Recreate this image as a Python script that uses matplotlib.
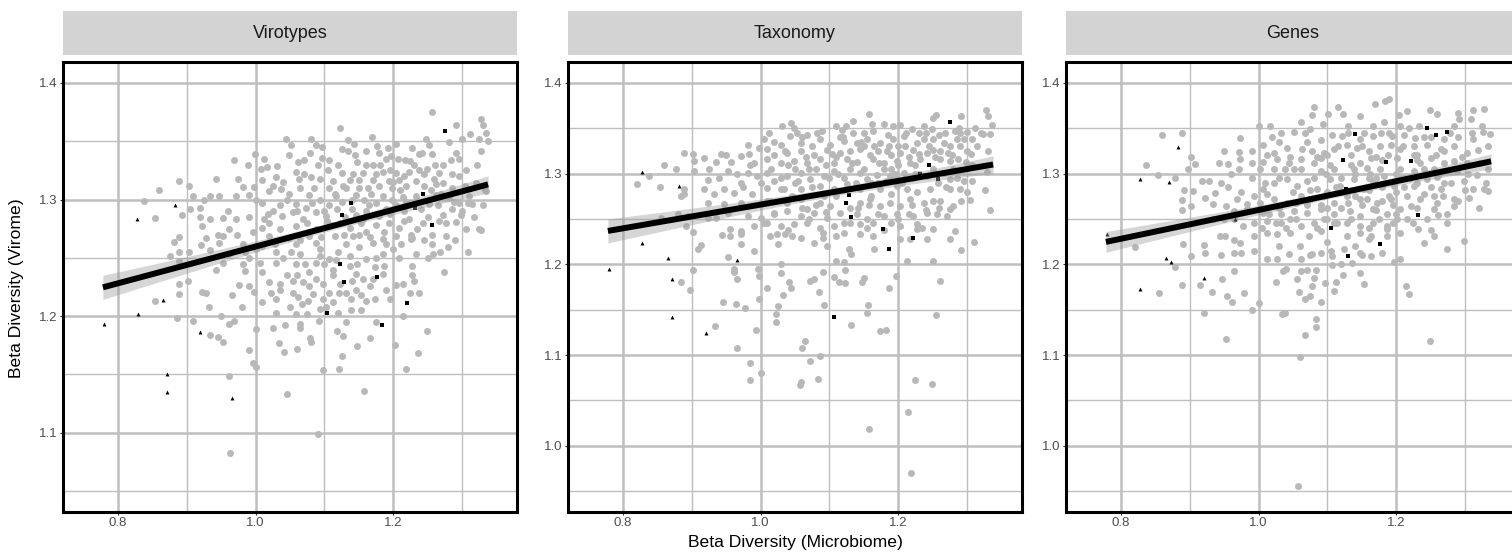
import numpy as np
import matplotlib
matplotlib.use("Agg")
import matplotlib.pyplot as plt
from matplotlib.ticker import MultipleLocator

plt.rcParams['font.family'] = ['Liberation Sans', 'DejaVu Sans']

# ---------------- data ----------------
panels = ["Virotypes", "Taxonomy", "Genes"]
x_label = "Beta Diversity (Microbiome)"
y_label = "Beta Diversity (Virome)"

virotypes_grey = [
    (1.256,1.375),(1.328,1.369),(1.292,1.364),(1.330,1.364),(1.123,1.361),
    (1.335,1.357),(1.311,1.356),(1.169,1.354),(1.081,1.352),(1.044,1.352),(1.135,1.351),(1.247,1.352),(1.281,1.349),
    (1.338,1.350),(1.051,1.347),(1.088,1.347),(1.204,1.348),(1.300,1.352),(1.252,1.347),(1.176,1.346),(1.193,1.344),
    (1.227,1.344),(1.327,1.342),(1.134,1.342),(1.126,1.343),(1.161,1.342),
    (1.291,1.340),(1.238,1.339),(1.257,1.339),(1.079,1.340),(0.999,1.339),(1.096,1.336),(1.284,1.334),(1.071,1.334),
    (1.107,1.334),(0.969,1.334),(1.217,1.334),(1.197,1.337),(1.225,1.333),(1.061,1.332),(0.989,1.330),(1.148,1.332),
    (1.031,1.329),(1.261,1.330),(1.181,1.330),(1.016,1.328),(1.306,1.325),(1.249,1.326),(1.008,1.326),
    (1.058,1.324),(1.126,1.323),(1.142,1.322),(1.156,1.323),(1.185,1.324),(1.204,1.323),(1.223,1.324),(1.267,1.323),
    (1.286,1.322),(0.942,1.318),(0.889,1.316),(1.093,1.318),(1.081,1.319),(1.030,1.319),(1.010,1.317),(1.112,1.316),
    (1.137,1.317),(1.151,1.317),(1.170,1.317),(1.194,1.316),(1.209,1.317),(1.233,1.316),(1.272,1.314),(0.903,1.312),
    (0.981,1.311),(0.998,1.311),(1.064,1.310),(1.037,1.309),(1.107,1.310),(1.127,1.312),(1.163,1.310),(1.180,1.312),
    (1.218,1.312),(1.262,1.313),(1.335,1.307),
    (0.859,1.308),(0.909,1.303),(0.933,1.303),(0.947,1.303),(0.972,1.303),(0.991,1.304),(1.020,1.307),(1.049,1.305),
    (1.078,1.304),(1.093,1.300),(1.117,1.303),(1.146,1.304),(1.158,1.300),(1.185,1.303),(1.199,1.300),(1.214,1.302),
    (1.233,1.303),(1.262,1.304),(1.281,1.302),(1.310,1.303),(0.838,1.299),(1.010,1.297),(1.035,1.295),(1.059,1.296),
    (1.073,1.293),(1.107,1.295),(1.175,1.297),(1.204,1.295),(1.252,1.296),(1.296,1.297),(1.309,1.297),(0.919,1.293),
    (0.904,1.292),
    (0.893,1.287),(0.854,1.284),(0.919,1.285),(0.933,1.283),(0.952,1.284),(0.972,1.283),(0.991,1.285),(1.018,1.288),
    (1.039,1.286),(1.054,1.289),(1.069,1.283),(1.088,1.289),(1.102,1.286),(1.122,1.280),(1.146,1.287),(1.156,1.283),
    (1.180,1.286),(1.194,1.280),(1.223,1.283),(1.243,1.280),(1.277,1.280),(1.291,1.281),(1.272,1.287),(0.922,1.277),
    (0.962,1.275),(1.010,1.276),(1.035,1.275),(1.059,1.277),(1.088,1.275),(1.137,1.276),(1.209,1.276),
    (1.306,1.275),(1.325,1.275),(0.952,1.269),(0.973,1.270),(0.996,1.272),(1.020,1.269),(1.049,1.267),(1.078,1.269),
    (1.115,1.269),(1.142,1.269),(1.161,1.272),(1.185,1.266),(1.204,1.269),(1.227,1.267),(1.257,1.270),(1.277,1.269),
    (0.889,1.268),(0.928,1.267),(0.882,1.264),(0.920,1.261),(0.947,1.263),(0.981,1.262),(1.010,1.260),(1.059,1.262),
    (1.088,1.263),(1.132,1.262),(1.151,1.259),(1.170,1.263),(1.226,1.266),(1.279,1.259),(1.257,1.262),
    (0.875,1.252),(0.889,1.255),(0.903,1.255),(0.933,1.257),(0.962,1.253),(0.991,1.250),(1.030,1.255),(1.064,1.253),
    (1.093,1.252),(1.107,1.249),(1.137,1.252),(1.161,1.249),(1.185,1.253),(1.209,1.250),(1.233,1.253),(1.258,1.253),
    (1.309,1.255),(0.889,1.247),(0.952,1.246),(0.981,1.245),(1.006,1.246),(1.030,1.246),(1.059,1.245),(1.088,1.246),
    (1.112,1.240),(1.137,1.243),(1.173,1.242),(1.187,1.243),(1.228,1.243),
    (0.943,1.240),(0.984,1.239),(1.010,1.238),(1.045,1.235),(1.078,1.238),(1.088,1.232),(1.112,1.235),(1.146,1.236),
    (1.156,1.232),(1.185,1.236),(1.228,1.235),(1.274,1.238),(0.888,1.228),(0.901,1.230),(0.976,1.227),(0.991,1.226),
    (1.020,1.229),(1.035,1.228),(1.069,1.229),(1.078,1.226),(1.122,1.228),(1.166,1.226),(1.204,1.227),(1.214,1.228),
    (1.230,1.230),
    (0.888,1.219),(0.922,1.221),(0.928,1.220),(0.998,1.221),(1.023,1.220),(1.035,1.222),(1.055,1.220),(1.083,1.219),
    (1.107,1.220),(1.121,1.220),(1.146,1.222),(1.153,1.218),(1.224,1.220),(1.238,1.220),(0.965,1.218),(0.854,1.213),
    (0.932,1.208),(0.980,1.208),(1.010,1.212),(1.030,1.215),(1.050,1.208),(1.062,1.216),(1.076,1.213),(1.098,1.215),
    (1.112,1.212),(1.139,1.215),(1.161,1.213),(1.174,1.215),
    (1.030,1.203),(1.059,1.202),(1.074,1.202),(1.093,1.206),(1.120,1.203),(1.139,1.205),(1.153,1.205),(1.214,1.200),
    (0.950,1.200),(0.885,1.198),(0.909,1.196),(0.969,1.196),(0.961,1.193),(1.001,1.189),(1.025,1.190),(1.043,1.192),
    (1.064,1.193),(1.092,1.196),(1.131,1.195),(1.175,1.195),(1.065,1.190),
    (0.933,1.184),(0.945,1.182),(0.952,1.178),(1.034,1.177),(1.079,1.181),(1.081,1.178),(1.119,1.187),(1.127,1.183),
    (1.166,1.181),(1.202,1.175),(1.249,1.187),(0.990,1.171),(1.042,1.169),(1.060,1.172),(1.147,1.174),(1.236,1.168),
    (1.126,1.166),
    (0.996,1.160),(1.001,1.156),(1.098,1.154),(1.121,1.155),(1.219,1.155),(0.961,1.149),(1.157,1.136),(1.045,1.133),
    (1.090,1.099),(0.963,1.083),
    (1.334,1.308),(1.327,1.274),(1.299,1.287),(1.315,1.296),(1.320,1.314),(1.325,1.352),(1.140,1.300),(1.150,1.310),
    (1.165,1.295),(1.190,1.292),(1.210,1.308),(1.240,1.292),(1.245,1.312),(1.130,1.285),(1.115,1.305),(1.170,1.330),
    (1.195,1.325),(1.215,1.290),(1.100,1.290),(1.085,1.310),
    (1.105,1.325),(1.120,1.330),(1.145,1.338),(1.160,1.330),(1.175,1.322),(1.190,1.335),(1.200,1.315),(1.215,1.320),
    (1.230,1.330),(1.245,1.322),(1.260,1.318),(1.270,1.305),(1.285,1.310),(1.295,1.320),(1.300,1.290),(1.285,1.292),
    (1.265,1.295),(1.250,1.285),(1.235,1.275),(1.215,1.282),(1.195,1.288),(1.175,1.278),(1.160,1.290),(1.140,1.292),
    (1.125,1.298),(1.110,1.278),(1.095,1.268),(1.075,1.280),(1.060,1.290),(1.045,1.300),(1.025,1.290),(1.040,1.315),
    (1.070,1.322),(1.090,1.330),(1.000,1.300),(1.020,1.280),(1.065,1.265),(1.120,1.255),(1.150,1.270),(1.200,1.258),
    (1.250,1.250),(1.175,1.250),(1.100,1.245),(1.140,1.230),(1.190,1.222),(1.060,1.235),(1.040,1.250),(1.000,1.258),
    (1.012,1.335),(1.026,1.312),(1.048,1.338),(1.063,1.318),(1.082,1.297),(1.097,1.345),(1.104,1.282),(1.118,1.292),
    (1.132,1.310),(1.143,1.348),(1.153,1.280),(1.168,1.305),(1.179,1.340),(1.186,1.272),(1.198,1.310),(1.207,1.335),
    (1.219,1.298),(1.226,1.270),(1.238,1.325),(1.242,1.340),(1.255,1.308),(1.266,1.282),(1.273,1.330),(1.288,1.298),
    (1.296,1.335),(1.305,1.312),(1.318,1.285),(1.322,1.330),(1.331,1.295),(1.012,1.283),(1.028,1.262),(1.052,1.255),
    (1.072,1.245),(1.094,1.258),(1.117,1.248),(1.128,1.270),(1.148,1.245),(1.166,1.268),(1.190,1.262),(1.212,1.262),
    (1.245,1.265),(1.268,1.255),(1.290,1.265),(1.055,1.230),(1.098,1.228),(1.132,1.220),(1.170,1.232),(1.195,1.215),
    (1.068,1.210),(1.103,1.208),(0.960,1.290),(0.975,1.318),(0.945,1.270),(0.925,1.300),(0.985,1.255),
]
virotypes_triangles = [(0.779,1.193),(0.828,1.283),(0.829,1.202),(0.865,1.214),(0.883,1.295),
                       (0.871,1.150),(0.871,1.135),(0.919,1.186),(0.965,1.130)]
virotypes_squares = [(1.275,1.359),(1.244,1.305),(1.139,1.297),(1.126,1.287),(1.231,1.293),(1.257,1.278),
                     (1.122,1.245),(1.129,1.229),(1.177,1.234),(1.220,1.211),(1.104,1.203),(1.184,1.192)]

taxonomy_grey = [
    (1.157,1.366),(1.328,1.370),(1.331,1.363),(1.337,1.354),(1.291,1.364),(1.255,1.365),(1.251,1.361),(1.135,1.358),
    (1.124,1.352),(1.109,1.353),(1.044,1.356),(1.031,1.352),(1.180,1.355),(1.193,1.352),(1.203,1.354),(1.220,1.349),
    (1.237,1.352),(1.249,1.349),(1.288,1.350),(1.300,1.346),(1.312,1.350),(1.324,1.344),(1.334,1.344),(1.283,1.347),
    (1.089,1.347),(1.068,1.343),(1.053,1.345),(1.135,1.345),(1.164,1.347),
    (1.043,1.341),(0.981,1.332),(1.005,1.338),(1.029,1.332),(1.058,1.334),(1.087,1.338),(1.101,1.332),(1.121,1.336),
    (1.140,1.334),(1.155,1.338),(1.174,1.334),(1.193,1.338),(1.208,1.341),(1.227,1.334),(1.251,1.338),(1.266,1.334),
    (1.285,1.338),(1.307,1.338),(1.290,1.330),(0.998,1.328),(1.010,1.327),(0.889,1.323),(0.901,1.322),(0.943,1.322),
    (0.971,1.319),(0.983,1.322),(1.019,1.321),(1.039,1.323),(1.058,1.325),(1.077,1.321),(1.097,1.326),(1.116,1.323),
    (1.145,1.327),(1.159,1.321),(1.184,1.325),(1.203,1.323),(1.222,1.326),(1.242,1.323),(1.261,1.325),(1.272,1.323),
    (1.306,1.322),(1.287,1.316),(1.299,1.313),(0.859,1.310),(0.877,1.305),(0.903,1.314),(0.917,1.317),(0.935,1.313),
    (0.957,1.313),(0.990,1.312),(1.010,1.316),(1.029,1.312),(1.048,1.314),(1.068,1.312),(1.087,1.316),(1.106,1.312),
    (1.126,1.316),(1.140,1.313),(1.164,1.316),(1.179,1.312),(1.198,1.314),(1.217,1.312),(1.232,1.316),(1.261,1.316),
    (1.276,1.314),
    (0.821,1.288),(0.838,1.297),(0.854,1.285),(0.889,1.283),(0.903,1.303),(0.923,1.293),(0.918,1.283),(0.939,1.295),
    (0.952,1.303),(0.971,1.290),(0.981,1.301),(0.995,1.297),(1.010,1.301),(1.019,1.292),(1.039,1.297),(1.058,1.301),
    (1.072,1.294),(1.092,1.297),(1.106,1.303),(1.121,1.295),(1.145,1.301),(1.155,1.294),(1.169,1.299),(1.188,1.297),
    (1.208,1.301),(1.222,1.295),(1.242,1.297),(1.266,1.301),(1.276,1.294),(1.295,1.292),(1.307,1.292),(1.329,1.302),
    (1.326,1.282),(1.290,1.283),(1.276,1.283),(1.246,1.283),(1.213,1.283),(1.198,1.286),(1.174,1.283),(1.145,1.283),
    (1.106,1.283),(1.087,1.286),(1.058,1.283),(1.029,1.283),(1.010,1.284),(0.988,1.277),(0.961,1.279),(0.947,1.283),
    (0.932,1.277),(0.889,1.277),(0.884,1.275),
    (0.923,1.268),(0.947,1.266),(0.971,1.268),(1.000,1.266),(1.014,1.270),(1.039,1.268),(1.058,1.272),(1.068,1.261),
    (1.087,1.268),(1.101,1.264),(1.145,1.268),(1.159,1.272),(1.174,1.264),(1.188,1.268),(1.203,1.264),(1.217,1.272),
    (1.237,1.268),(1.261,1.270),(1.280,1.264),(1.292,1.270),(1.305,1.271),(1.333,1.260),(0.880,1.256),(0.894,1.253),
    (0.855,1.251),(0.923,1.251),(0.935,1.251),(0.952,1.257),(0.981,1.253),(1.000,1.251),(1.019,1.257),(1.039,1.259),
    (1.058,1.253),(1.077,1.257),(1.097,1.251),(1.116,1.257),(1.140,1.255),(1.155,1.250),(1.179,1.253),(1.198,1.255),
    (1.222,1.253),(1.242,1.257),(1.256,1.255),(1.271,1.253),(1.275,1.261),(0.891,1.242),(0.901,1.236),(0.956,1.239),
    (0.971,1.237),(0.990,1.242),(1.005,1.246),(1.029,1.242),(1.048,1.244),(1.068,1.246),(1.087,1.240),(1.106,1.242),
    (1.121,1.246),(1.145,1.244),(1.164,1.246),(1.203,1.242),(1.227,1.244),(1.251,1.239),(1.227,1.239),
    (0.944,1.232),(0.956,1.231),(0.971,1.233),(1.014,1.231),(1.024,1.233),(1.036,1.233),(1.025,1.222),(0.971,1.222),
    (1.046,1.231),(1.058,1.229),(1.078,1.224),(1.090,1.229),(1.109,1.231),(1.121,1.235),(1.145,1.233),(1.164,1.231),
    (1.203,1.228),(1.217,1.228),(1.242,1.228),(1.275,1.228),(1.283,1.237),(1.310,1.225),(1.291,1.216),(1.165,1.217),
    (1.097,1.220),(1.128,1.217),(1.131,1.211),(0.990,1.215),(0.909,1.217),(0.914,1.221),(0.953,1.208),(1.109,1.204),
    (1.121,1.203),(1.213,1.204),(1.250,1.204),
    (0.901,1.194),(0.884,1.181),(0.898,1.172),(0.961,1.195),(0.961,1.191),(0.965,1.184),(0.996,1.195),(0.998,1.187),
    (1.029,1.200),(1.030,1.190),(1.009,1.174),(1.041,1.180),(1.044,1.174),(1.032,1.166),(1.072,1.182),(1.078,1.184),
    (1.085,1.170),(1.091,1.191),(1.107,1.186),(1.114,1.181),(1.122,1.179),(1.122,1.194),(1.148,1.180),(1.150,1.185),
    (1.187,1.174),(1.197,1.187),(1.261,1.182),
    (0.946,1.159),(0.964,1.156),(0.978,1.152),(0.997,1.162),(1.026,1.154),(1.022,1.145),(1.022,1.136),(1.092,1.155),
    (1.156,1.155),(1.155,1.146),(1.131,1.133),(1.174,1.126),(1.182,1.128),(1.255,1.144),(0.933,1.132),(0.994,1.128),
    (0.965,1.108),(1.064,1.115),(1.060,1.108),(1.086,1.099),(1.072,1.093),(0.984,1.091),(1.001,1.080),(0.985,1.073),
    (1.058,1.070),(1.057,1.067),(1.083,1.074),(1.224,1.073),(1.249,1.068),(1.214,1.037),(1.158,1.019),(1.219,0.970),
    (1.150,1.330),(1.170,1.325),(1.190,1.320),(1.210,1.330),(1.230,1.322),(1.180,1.305),(1.200,1.310),(1.130,1.305),
    (1.110,1.318),(1.250,1.326),(1.160,1.290),(1.230,1.300),(1.080,1.305),(1.050,1.290),(1.120,1.340),(1.240,1.345),
    (1.020,1.335),(1.040,1.310),(1.060,1.340),(1.075,1.330),(1.095,1.310),(1.115,1.340),(1.130,1.325),(1.150,1.345),
    (1.165,1.330),(1.185,1.342),(1.200,1.330),(1.215,1.318),(1.230,1.345),(1.245,1.330),(1.260,1.342),(1.275,1.330),
    (1.290,1.345),(1.300,1.325),(1.315,1.330),(1.280,1.305),(1.250,1.305),(1.225,1.300),(1.190,1.305),(1.170,1.290),
    (1.150,1.305),(1.125,1.288),(1.100,1.295),(1.075,1.285),(1.050,1.305),(1.030,1.295),(1.000,1.290),(0.985,1.310),
    (1.010,1.270),(1.045,1.275),(1.080,1.265),(1.110,1.275),(1.130,1.262),(1.160,1.275),(1.190,1.278),(1.220,1.265),
    (1.250,1.270),(1.200,1.250),(1.130,1.245),(1.070,1.250),(1.180,1.238),(1.240,1.260),(1.090,1.235),(1.270,1.285),
    (1.012,1.345),(1.035,1.325),(1.048,1.350),(1.066,1.318),(1.082,1.345),(1.104,1.322),(1.118,1.348),(1.133,1.312),
    (1.146,1.335),(1.162,1.355),(1.172,1.312),(1.186,1.330),(1.196,1.300),(1.212,1.345),(1.224,1.310),(1.238,1.338),
    (1.254,1.318),(1.268,1.345),(1.278,1.320),(1.296,1.338),(1.308,1.310),(1.320,1.345),(1.330,1.325),(1.015,1.305),
    (1.034,1.283),(1.055,1.292),(1.070,1.305),(1.092,1.275),(1.112,1.300),(1.138,1.290),(1.158,1.265),(1.182,1.292),
    (1.205,1.290),(1.228,1.280),(1.258,1.290),(1.285,1.295),(1.300,1.280),(0.965,1.300),(0.975,1.285),(0.950,1.320),
    (0.925,1.305),(1.020,1.255),(1.060,1.262),(1.095,1.258),(1.142,1.262),(1.170,1.255),(1.215,1.255),(1.260,1.262),
    (1.010,1.245),(1.040,1.238),(1.155,1.240),(1.190,1.245),(1.235,1.240),
]
taxonomy_triangles = [(0.779,1.195),(0.827,1.302),(0.828,1.224),(0.865,1.207),(0.882,1.286),
                      (0.871,1.184),(0.871,1.142),(0.920,1.124),(0.965,1.205)]
taxonomy_squares = [(1.275,1.357),(1.245,1.310),(1.232,1.300),(1.258,1.294),(1.128,1.276),(1.124,1.268),
                    (1.131,1.252),(1.178,1.239),(1.222,1.229),(1.186,1.217),(1.106,1.142)]

genes_grey = [
    (1.189,1.382),(1.184,1.380),(1.169,1.377),(1.080,1.373),(1.115,1.373),(1.215,1.369),(1.249,1.370),(1.260,1.366),
    (1.328,1.371),(1.312,1.370),(1.290,1.367),(1.078,1.365),(1.101,1.366),(1.123,1.366),(1.147,1.363),(1.204,1.365),
    (1.061,1.357),(1.094,1.355),(1.130,1.353),(1.000,1.353),(1.017,1.352),(1.167,1.352),(1.182,1.357),(1.206,1.352),
    (1.233,1.352),(1.291,1.360),(1.309,1.360),(1.325,1.352),(1.337,1.344),(1.284,1.352),(0.860,1.343),(0.889,1.345),
    (0.973,1.339),(1.032,1.345),(1.051,1.346),(1.075,1.349),(1.090,1.337),(1.107,1.342),(1.121,1.341),(1.153,1.345),
    (1.167,1.341),(1.194,1.341),(1.211,1.343),(1.228,1.339),(1.270,1.338),(1.311,1.338),(1.326,1.346),
    (0.949,1.325),(0.972,1.324),(0.990,1.325),(1.007,1.332),(1.022,1.323),(1.041,1.328),(1.063,1.327),(1.078,1.325),
    (1.095,1.323),(1.109,1.327),(1.129,1.332),(1.143,1.328),(1.160,1.325),(1.177,1.330),(1.192,1.332),(1.206,1.327),
    (1.226,1.330),(1.245,1.332),(1.265,1.327),(1.284,1.330),(1.303,1.323),(1.319,1.326),(1.333,1.330),(0.901,1.318),
    (0.908,1.311),(0.942,1.312),(0.955,1.311),(0.973,1.316),(0.991,1.312),(1.007,1.313),(1.027,1.316),(1.044,1.312),
    (1.061,1.316),(1.080,1.312),(1.090,1.317),(1.104,1.310),(1.148,1.312),(1.163,1.317),(1.201,1.317),(1.235,1.312),
    (1.250,1.317),(1.269,1.312),(1.284,1.314),(1.303,1.312),(1.333,1.305),(0.837,1.309),(0.854,1.299),(0.897,1.305),
    (0.971,1.305),(1.002,1.305),(1.022,1.305),(1.039,1.305),(1.061,1.305),(1.090,1.303),(1.109,1.305),(1.138,1.305),
    (1.158,1.306),(1.177,1.305),(1.206,1.305),(1.226,1.303),(1.255,1.305),(1.289,1.303),(1.318,1.299),
    (0.879,1.295),(0.918,1.292),(0.928,1.292),(0.891,1.282),(0.904,1.281),(0.889,1.271),(0.901,1.264),(0.922,1.273),
    (0.937,1.279),(0.956,1.285),(0.968,1.272),(0.993,1.275),(1.007,1.283),(1.022,1.290),(1.041,1.294),(1.056,1.286),
    (1.070,1.292),(1.085,1.283),(1.104,1.294),(1.119,1.286),(1.138,1.294),(1.153,1.283),(1.167,1.292),(1.182,1.297),
    (1.197,1.286),(1.211,1.295),(1.226,1.286),(1.245,1.294),(1.265,1.283),(1.279,1.290),(1.299,1.292),(1.311,1.283),
    (1.328,1.283),(1.334,1.281),(1.306,1.273),(1.284,1.272),(1.255,1.275),(1.235,1.272),(1.216,1.275),(1.192,1.272),
    (1.172,1.268),(1.148,1.272),(1.129,1.275),(1.109,1.268),(1.095,1.275),(1.075,1.272),(1.061,1.275),(1.041,1.268),
    (1.022,1.272),(1.002,1.268),(0.983,1.266),(0.952,1.264),(0.934,1.266),
    (0.889,1.260),(0.964,1.259),(0.983,1.261),(1.007,1.257),(1.032,1.255),(1.051,1.259),(1.070,1.257),(1.090,1.261),
    (1.109,1.255),(1.133,1.259),(1.148,1.253),(1.167,1.261),(1.187,1.255),(1.206,1.261),(1.221,1.264),(1.255,1.261),
    (1.274,1.255),(1.284,1.264),(1.261,1.254),(0.933,1.250),(0.949,1.250),(0.964,1.250),(0.978,1.242),(0.993,1.246),
    (1.012,1.248),(1.032,1.246),(1.046,1.250),(1.061,1.242),(1.080,1.246),(1.100,1.250),(1.114,1.246),(1.129,1.246),
    (1.148,1.242),(1.167,1.246),(1.187,1.242),(1.201,1.250),(1.216,1.250),(1.245,1.250),(1.274,1.246),(1.298,1.226),
    (1.274,1.217),(1.240,1.224),(1.255,1.231),(1.231,1.239),(1.187,1.239),(1.206,1.235),(0.890,1.222),(0.920,1.221),
    (0.944,1.231),(0.951,1.231),(0.964,1.227),(0.973,1.224),(0.993,1.231),(1.012,1.235),(1.027,1.233),(1.046,1.235),
    (1.073,1.231),(1.090,1.237),(1.129,1.231),(1.148,1.235),(1.163,1.231),(1.187,1.231),
    (0.821,1.219),(0.901,1.209),(0.922,1.213),(0.945,1.210),(0.964,1.213),(0.974,1.212),(0.993,1.215),(1.012,1.206),
    (1.027,1.206),(1.044,1.211),(1.061,1.206),(1.078,1.211),(1.090,1.213),(1.107,1.209),(1.124,1.217),(1.148,1.213),
    (1.163,1.209),(1.180,1.212),(1.205,1.206),(0.879,1.197),(0.964,1.193),(0.947,1.184),(1.036,1.193),(1.061,1.193),
    (1.071,1.194),(1.084,1.194),(1.123,1.188),(1.148,1.190),(1.107,1.199),(1.136,1.202),(1.197,1.203),
    (0.888,1.177),(0.915,1.177),(0.855,1.168),(0.932,1.170),(0.954,1.165),(0.962,1.159),(0.979,1.168),(1.001,1.157),
    (0.990,1.150),(1.026,1.181),(1.056,1.184),(1.058,1.169),(1.067,1.162),(1.075,1.165),(1.090,1.159),(1.078,1.176),
    (1.096,1.179),(1.109,1.171),(1.113,1.180),(1.153,1.178),(1.214,1.176),(1.219,1.167),(0.921,1.146),(1.034,1.145),
    (1.039,1.146),(1.084,1.140),(1.083,1.131),(1.067,1.122),(0.953,1.118),(1.249,1.116),(1.060,1.098),(1.057,0.956),
    (1.140,1.300),(1.160,1.295),(1.180,1.285),(1.200,1.300),(1.220,1.295),(1.240,1.305),(1.120,1.280),(1.170,1.260),
    (1.195,1.265),(1.100,1.262),(1.230,1.320),(1.260,1.296),(1.135,1.320),(1.180,1.315),
    (1.020,1.340),(1.045,1.318),(1.070,1.335),(1.100,1.320),(1.130,1.345),(1.150,1.330),(1.170,1.318),(1.190,1.345),
    (1.210,1.330),(1.230,1.315),(1.250,1.340),(1.270,1.325),(1.290,1.340),(1.305,1.300),(1.270,1.290),(1.250,1.285),
    (1.230,1.290),(1.200,1.280),(1.180,1.270),(1.160,1.282),(1.140,1.275),(1.120,1.295),(1.100,1.280),(1.080,1.295),
    (1.050,1.280),(1.030,1.295),(1.010,1.290),(0.990,1.295),(1.015,1.255),(1.040,1.240),(1.070,1.265),(1.095,1.250),
    (1.120,1.262),(1.150,1.265),(1.175,1.250),(1.200,1.255),(1.230,1.262),(1.260,1.268),(1.290,1.270),(1.140,1.220),
    (1.100,1.225),(1.060,1.220),(1.160,1.240),(1.120,1.200),(1.080,1.185),(1.030,1.220),
    (1.012,1.320),(1.030,1.335),(1.052,1.305),(1.068,1.345),(1.085,1.318),(1.098,1.300),(1.115,1.330),(1.135,1.310),
    (1.148,1.338),(1.162,1.300),(1.178,1.345),(1.188,1.320),(1.205,1.295),(1.218,1.350),(1.226,1.320),(1.240,1.340),
    (1.258,1.320),(1.262,1.300),(1.278,1.345),(1.296,1.318),(1.310,1.345),(1.322,1.312),(1.330,1.290),(1.012,1.278),
    (1.030,1.262),(1.055,1.268),(1.075,1.282),(1.090,1.265),(1.112,1.285),(1.130,1.268),(1.158,1.272),(1.170,1.295),
    (1.190,1.275),(1.212,1.285),(1.240,1.278),(1.268,1.275),(1.300,1.282),(1.320,1.262),(1.005,1.240),(1.025,1.245),
    (1.055,1.250),(1.085,1.240),(1.110,1.245),(1.135,1.250),(1.160,1.228),(1.195,1.245),(1.225,1.245),(1.250,1.238),
    (1.075,1.210),(1.105,1.215),(1.150,1.210),(1.040,1.195),(0.960,1.300),(0.975,1.280),(0.945,1.290),
]
genes_triangles = [(0.779,1.233),(0.827,1.294),(0.870,1.291),(0.883,1.329),(0.865,1.207),
                   (0.872,1.203),(0.828,1.173),(0.920,1.185),(0.965,1.250)]
genes_squares = [(1.140,1.344),(1.245,1.350),(1.258,1.342),(1.274,1.346),(1.123,1.315),(1.185,1.313),
                 (1.222,1.314),(1.127,1.283),(1.232,1.254),(1.105,1.240),(1.177,1.222),(1.130,1.209)]

# fitted lines (lm): y at x start / x end
fit_x_start = 0.778
fit_x_end = 1.338
fit_y_start = [1.2247, 1.2368, 1.2247]
fit_y_end = [1.3130, 1.3100, 1.3135]
n_pairs = 780  # number of sample pairs in the original data

x_ticks = [0.8, 1.0, 1.2]
y_ticks = [[1.1, 1.2, 1.3, 1.4], [1.0, 1.1, 1.2, 1.3, 1.4], [1.0, 1.1, 1.2, 1.3, 1.4]]
x_limits = (0.72, 1.38)
y_limits = [(1.032, 1.418), (0.927, 1.423), (0.927, 1.423)]

grey_sets = [virotypes_grey, taxonomy_grey, genes_grey]
tri_sets = [virotypes_triangles, taxonomy_triangles, genes_triangles]
sq_sets = [virotypes_squares, taxonomy_squares, genes_squares]

# ---------------- figure ----------------
W, H = 1512, 554
fig = plt.figure(figsize=(W / 100, H / 100), dpi=100)
fig.patch.set_facecolor('white')


def px_axes(l, t, r, b):
    return fig.add_axes([l / W, 1 - b / H, (r - l) / W, (b - t) / H])


lefts = [63, 568, 1066]
pw = 454
grid_col = '#BEBEBE'

for i, name in enumerate(panels):
    l = lefts[i]
    # strip
    sax = px_axes(l, 11, l + pw, 55)
    sax.set_facecolor('#D3D3D3')
    sax.set_xticks([]); sax.set_yticks([])
    for sp in sax.spines.values():
        sp.set_visible(False)
    sax.text(0.5, 0.5, name, ha='center', va='center', fontsize=13, color='#1A1A1A',
             transform=sax.transAxes)

    ax = px_axes(l, 62, l + pw, 512)
    ax.set_xlim(*x_limits)
    ax.set_ylim(*y_limits[i])
    ax.set_xticks(x_ticks)
    ax.set_yticks(y_ticks[i])
    ax.xaxis.set_minor_locator(MultipleLocator(0.1))
    ax.yaxis.set_minor_locator(MultipleLocator(0.05))
    ax.set_xticklabels([f"{v:.1f}" for v in x_ticks])
    ax.set_yticklabels([f"{v:.1f}" for v in y_ticks[i]])
    ax.grid(which='major', color=grid_col, lw=1.8)
    ax.grid(which='minor', color=grid_col, lw=1.0)
    ax.set_axisbelow(True)
    ax.tick_params(which='major', length=2.2, width=0.8, color='#333333', labelsize=9.5,
                   labelcolor='#4D4D4D', pad=1.5)
    ax.tick_params(which='minor', length=0)
    for sp in ax.spines.values():
        sp.set_linewidth(2.2)
        sp.set_color('black')

    g = np.array(grey_sets[i])
    t = np.array(tri_sets[i])
    s = np.array(sq_sets[i])
    ax.scatter(g[:, 0], g[:, 1], s=25, color='#B8B8B8', linewidths=0, zorder=2)
    ax.scatter(t[:, 0], t[:, 1], s=8, marker='^', color='black', linewidths=0, zorder=2.5)
    ax.scatter(s[:, 0], s[:, 1], s=7, marker='s', color='black', linewidths=0, zorder=2.5)

    # regression line with 95% confidence band
    allx = np.concatenate([g[:, 0], t[:, 0], s[:, 0]])
    ally = np.concatenate([g[:, 1], t[:, 1], s[:, 1]])
    slope = (fit_y_end[i] - fit_y_start[i]) / (fit_x_end - fit_x_start)
    icpt = fit_y_start[i] - slope * fit_x_start
    xs = np.linspace(fit_x_start, fit_x_end, 100)
    ys = icpt + slope * xs
    resid = ally - (icpt + slope * allx)
    sd = np.std(resid, ddof=2)
    xm = allx.mean()
    sxx = n_pairs * allx.var()
    se = sd * np.sqrt(1.0 / n_pairs + (xs - xm) ** 2 / sxx)
    ax.fill_between(xs, ys - 1.96 * se, ys + 1.96 * se, color='#999999', alpha=0.4,
                    linewidth=0, zorder=3)
    ax.plot(xs, ys, color='black', lw=4.3, solid_capstyle='butt', zorder=4)

fig.text(17 / W, 1 - 288 / H, y_label, rotation=90, ha='center', va='center', fontsize=12.6,
         color='black')
fig.text(795 / W, 1 - 543 / H, x_label, ha='center', va='center', fontsize=12.6, color='black')

fig.savefig('out.png', dpi=100, facecolor='white')
